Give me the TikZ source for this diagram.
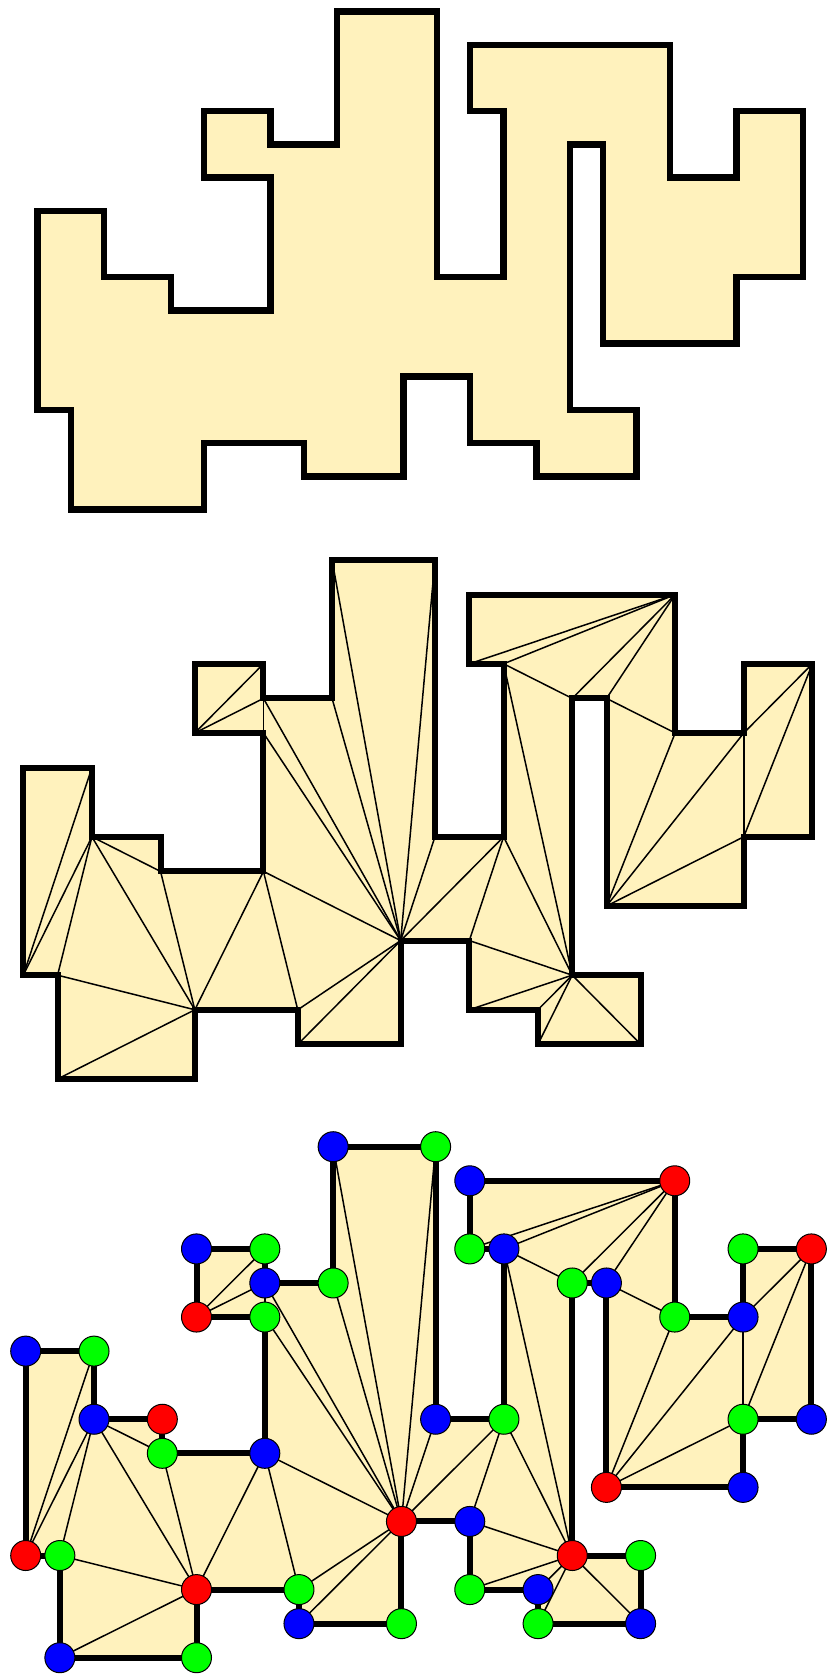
\documentclass[tikz,border=0pt]{standalone}
\usetikzlibrary{shapes.geometric}
\definecolor{polyfill}{RGB}{255,242,189}
\definecolor{vr}{RGB}{255,0,0}
\definecolor{vg}{RGB}{0,255,0}
\definecolor{vb}{RGB}{0,0,255}
\def\vlist{0/6/vb,2/6/vg,2/8/vb,4/8/vr,4/9/vg,7/9/vb,7/5/vg,5/5/vr,5/3/vb,7/3/vg,7/4/vb,9/4/vg,9/0/vb,12/0/vg,12/8/vb,14/8/vg,14/3/vb,13/3/vg,13/1/vb,19/1/vr,19/5/vg,21/5/vb,21/3/vg,23/3/vr,23/8/vb,21/8/vg,21/10/vb,17/10/vr,17/4/vb,16/4/vg,16/12/vr,18/12/vg,18/14/vb,15/14/vg,15/13/vb,13/13/vg,13/11/vb,11/11/vr,11/14/vg,8/14/vb,8/13/vg,5/13/vr,5/15/vg,1/15/vb,1/12/vg,0/12/vr}
\def\dlist{46/2,46/3,45/3,45/42,44/42,3/42,3/5,5/42,6/42,6/41,6/38,41/38,40/38,8/10,8/11,11/38,7/38,12/38,13/38,14/38,15/38,16/38,16/37,16/31,17/31,37/31,36/31,35/31,34/31,33/31,18/20,17/20,17/30,30/20,29/20,29/21,28/21,28/22,28/26,22/24,26/24,22/26,11/7}
\tikzset{
  outline/.style={draw=black, line width=#1, line join=miter, fill=polyfill},
  diag/.style={draw=black, line width=1.5pt},
  vert/.style={circle, draw=black, line width=1pt, minimum size=30pt, inner sep=0pt}
}
\begin{document}
\begin{tikzpicture}[x=1pt,y=-1pt]
\fill[white] (0,0) rectangle (829,1675);
\useasboundingbox (0,0) rectangle (829,1675);
% top: plain polygon
\begin{scope}[shift={(37.7,11.7)},xscale=33.3,yscale=33.2]
  \foreach \x/\y/\c [count=\k] in \vlist {\coordinate (t\k) at (\x,\y);}
  \filldraw[outline=6.5pt] (t1) \foreach \k in {2,...,46}{ -- (t\k)} -- cycle;
\end{scope}
% middle: triangulated polygon
\begin{scope}[shift={(23.3,560)},xscale=34.4,yscale=34.6]
  \foreach \x/\y/\c [count=\k] in \vlist {\coordinate (m\k) at (\x,\y);}
  \fill[polyfill] (m1) \foreach \k in {2,...,46}{ -- (m\k)} -- cycle;
  \foreach \a/\b in \dlist {\draw[diag] (m\a) -- (m\b);}
  \draw[outline=6pt, fill=none] (m1) \foreach \k in {2,...,46}{ -- (m\k)} -- cycle;
\end{scope}
% bottom: 3-coloured triangulation
\begin{scope}[shift={(25.7,1146.7)},xscale=34.2,yscale=34.1]
  \foreach \x/\y/\c [count=\k] in \vlist {\coordinate (b\k) at (\x,\y);}
  \fill[polyfill] (b1) \foreach \k in {2,...,46}{ -- (b\k)} -- cycle;
  \foreach \a/\b in \dlist {\draw[diag] (b\a) -- (b\b);}
  \draw[outline=6pt, fill=none] (b1) \foreach \k in {2,...,46}{ -- (b\k)} -- cycle;
  \foreach \x/\y/\c [count=\k] in \vlist {\node[vert, fill=\c] (bn\k) at (b\k) {};}
\end{scope}
\end{tikzpicture}
\end{document}
